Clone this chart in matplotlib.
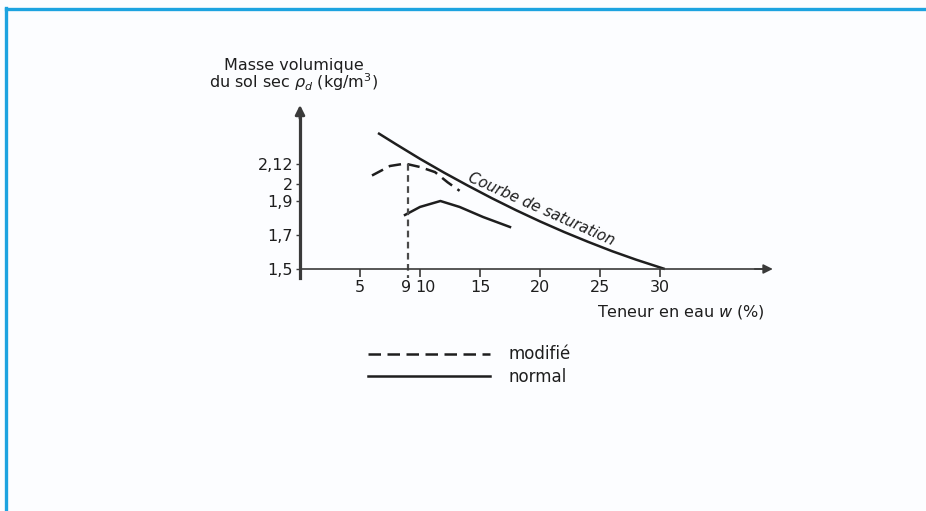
import matplotlib
matplotlib.use("Agg")
import matplotlib.pyplot as plt
from matplotlib.lines import Line2D
from matplotlib.transforms import ScaledTranslation

# ---- data ----
sat_w = [6.5, 8, 10, 12, 14, 16, 18, 20, 22, 24, 26, 28, 30.4]
sat_rho = [2.30, 2.234, 2.148, 2.067, 1.990, 1.916, 1.846, 1.780,
           1.718, 1.660, 1.605, 1.555, 1.50]

mod_w = [6.0, 7.5, 8.75, 10.0, 11.25, 12.3, 13.3]
mod_rho = [2.05, 2.106, 2.12, 2.10, 2.07, 2.01, 1.96]

norm_w = [8.75, 10.0, 11.7, 13.3, 15.25, 17.5]
norm_rho = [1.818, 1.865, 1.90, 1.865, 1.806, 1.747]

w_opt = 9
rho_max = 2.12

x_ticks = [5, 10, 15, 20, 25, 30]
x_tick_labels = ["5", "10", "15", "20", "25", "30"]
y_ticks = [1.5, 1.7, 1.9, 2.0, 2.12]
y_tick_labels = ["1,5", "1,7", "1,9", "2", "2,12"]

# ---- figure ----
W, H = 926, 511
fig = plt.figure(figsize=(W / 100, H / 100), dpi=100)
fig.patch.set_facecolor("#fcfdff")

# pixel layout of the axes
x0_px, ppx = 300, 12.0         # w=0 at 300 px, 12 px per %
y0_px, ppy = 269, 170.0        # rho=1.5 at 269 px, 170 px per unit
xmin, xmax = 0.0, 39.4
ymin, ymax = 1.45, 2.465
left = (x0_px + xmin * ppx) / W
right = (x0_px + xmax * ppx) / W
bottom = 1 - (y0_px + (1.5 - ymin) * ppy) / H
top = 1 - (y0_px - (ymax - 1.5) * ppy) / H
ax = fig.add_axes([left, bottom, right - left, top - bottom])
ax.set_facecolor("none")
ax.set_xlim(xmin, xmax)
ax.set_ylim(ymin, ymax)

axis_col = "#3a3a3a"
ink = "#1e1e1e"

for s in ["top", "right"]:
    ax.spines[s].set_visible(False)
ax.spines["left"].set_position(("data", 0))
ax.spines["bottom"].set_position(("data", 1.5))
ax.spines["left"].set_linewidth(2.3)
ax.spines["bottom"].set_linewidth(1.2)
ax.spines["left"].set_color(axis_col)
ax.spines["bottom"].set_color(axis_col)
ax.spines["left"].set_bounds(ymin, ymax - 0.05)
ax.spines["bottom"].set_bounds(xmin, xmax - 0.8)

# arrow heads
ax.annotate("", xy=(0, ymax), xytext=(0, ymax - 0.08),
            arrowprops=dict(arrowstyle="-|>", color=axis_col, lw=2.0,
                            mutation_scale=14, shrinkA=0, shrinkB=0),
            annotation_clip=False)
ax.annotate("", xy=(xmax, 1.5), xytext=(xmax - 1.5, 1.5),
            arrowprops=dict(arrowstyle="-|>", color=axis_col, lw=1.2,
                            mutation_scale=14, shrinkA=0, shrinkB=0),
            annotation_clip=False)

fs = 11.5
ax.set_xticks(x_ticks)
ax.set_xticklabels(x_tick_labels, fontsize=fs, color=ink)
ax.set_xticks([w_opt], minor=True)
ax.set_xticklabels([str(w_opt)], minor=True, fontsize=fs, color=ink)
ax.tick_params(axis="x", which="major", direction="out", length=5.5,
               width=1.2, color=axis_col, pad=2.5)
ax.tick_params(axis="x", which="minor", length=5.5, width=0, pad=2.5)
ax.set_yticks(y_ticks)
ax.set_yticklabels(y_tick_labels, fontsize=fs, color=ink)
ax.tick_params(axis="y", direction="out", length=3, width=1.0,
               color=axis_col, pad=2)

# nudge "9" and "10" apart like in the reference ("9 10")
for lab in ax.get_xticklabels(minor=True):
    lab.set_transform(lab.get_transform()
                      + ScaledTranslation(-2 / 100, 0, fig.dpi_scale_trans))
for lab in ax.get_xticklabels():
    if lab.get_text() == "10":
        lab.set_transform(lab.get_transform()
                          + ScaledTranslation(5 / 100, 0, fig.dpi_scale_trans))

# curves
ax.plot(sat_w, sat_rho, color=ink, lw=1.8, solid_capstyle="butt",
        solid_joinstyle="round", clip_on=False)
ax.plot(mod_w, mod_rho, color=ink, lw=1.8, linestyle=(0, (5, 2.6)),
        label="modifié", clip_on=False)
ax.plot(norm_w, norm_rho, color=ink, lw=1.8, label="normal",
        solid_joinstyle="round", clip_on=False)
ax.plot([w_opt, w_opt], [rho_max, ymin], color="#4a4a4a", lw=1.6,
        linestyle=(0, (3, 2)), clip_on=False)

# texts
ax.text(20.1, 1.85, "Courbe de saturation", rotation=-24, style="italic",
        fontsize=10.8, color=ink, ha="center", va="center",
        rotation_mode="anchor")
ax.text(-0.5, 2.636, "Masse volumique\ndu sol sec $\\rho_d$ (kg/m$^3$)",
        fontsize=fs, color=ink, ha="center", va="center", linespacing=0.9,
        clip_on=False)
ax.text(31.75, 1.247, "Teneur en eau $w$ (%)", fontsize=fs, color=ink,
        ha="center", va="center", clip_on=False)

# legend
leg = fig.legend(loc="center left",
                 bbox_to_anchor=(368 / W, 1 - 365.5 / H),
                 frameon=False, fontsize=12, handlelength=7.3,
                 handletextpad=1.1, labelspacing=0.25, borderpad=0,
                 borderaxespad=0)
for t in leg.get_texts():
    t.set_color(ink)

# blue frame lines (top and left)
border = "#1ca3e0"
fig.add_artist(Line2D([5.5 / W, 1], [1 - 9 / H, 1 - 9 / H],
                      transform=fig.transFigure, color=border, lw=2.4))
fig.add_artist(Line2D([6 / W, 6 / W], [0, 1 - 8 / H],
                      transform=fig.transFigure, color=border, lw=2.4))

fig.savefig("out.png", dpi=100, facecolor=fig.get_facecolor())
